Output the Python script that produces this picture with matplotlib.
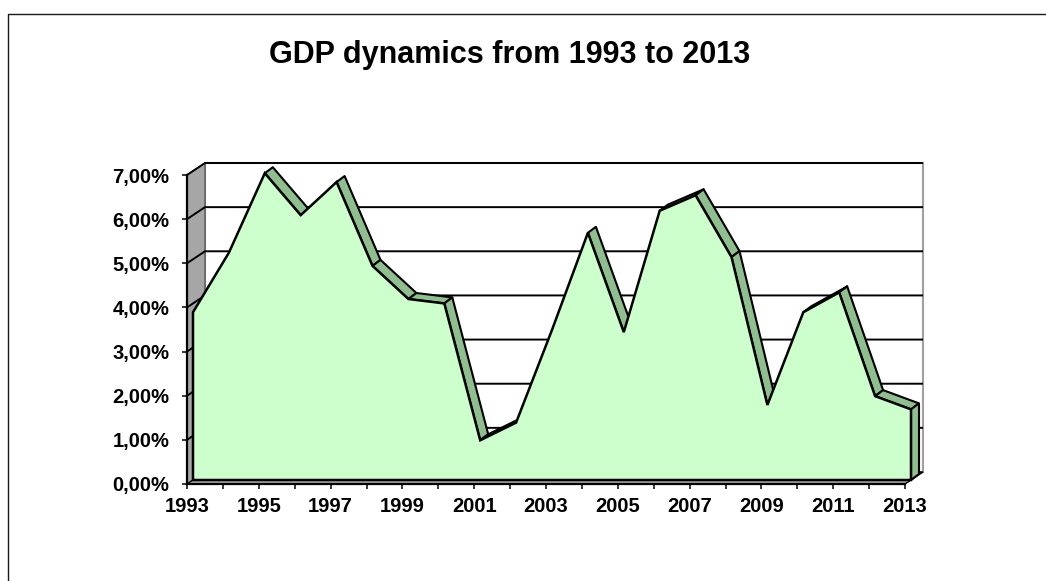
import matplotlib
matplotlib.use('Agg')
import numpy as np
from matplotlib import pyplot as plt
from matplotlib.patches import Polygon
from matplotlib.lines import Line2D

plt.rcParams['font.family'] = ['Liberation Sans', 'DejaVu Sans']

years = list(range(1993, 2014))
gdp = [3.8, 5.15, 6.95, 6.0, 6.75, 4.85, 4.1, 4.0, 0.9, 1.3, 3.4,
       5.6, 3.35, 6.1, 6.45, 5.05, 1.7, 3.8, 4.25, 1.9, 1.6]
ytick_vals = [0, 1, 2, 3, 4, 5, 6, 7]
ytick_labels = ['0,00%', '1,00%', '2,00%', '3,00%', '4,00%', '5,00%', '6,00%', '7,00%']
xtick_labels = [str(y) if (y - years[0]) % 2 == 0 else '' for y in years]
title = 'GDP dynamics from 1993 to 2013'

W, H = 1046, 581
fig = plt.figure(figsize=(W / 100, H / 100), dpi=100)
ax = fig.add_axes([187 / W, 97 / H, 718 / W, 309 / H])
x0, x1 = years[0], years[-1]
ax.set_xlim(x0, x1)
ax.set_ylim(0, 7)

# pixels per data unit, for the fake 3d depth
bb = ax.get_window_extent()
sx = bb.width / (x1 - x0)
sy = bb.height / 7.0

def off(px, py):
    return px / sx, py / sy

wx, wy = off(18, 12)   # back wall
fx, fy = off(6, 4)     # series front face
bx, by = off(14, 10)   # series back face

# walls and floor
ax.add_patch(Polygon([(x0 + wx, wy), (x1 + wx, wy), (x1 + wx, 7 + wy), (x0 + wx, 7 + wy)],
                     closed=True, facecolor='white', edgecolor='#a0a0a0', lw=1.5,
                     clip_on=False, zorder=1))
ax.add_patch(Polygon([(x0, 0), (x0, 7), (x0 + wx, 7 + wy), (x0 + wx, wy)],
                     closed=True, facecolor='#a6a6a6', edgecolor='#555555', lw=1,
                     clip_on=False, zorder=1))
ax.add_patch(Polygon([(x0, 0), (x1, 0), (x1 + wx, wy), (x0 + wx, wy)],
                     closed=True, facecolor='#a6a6a6', edgecolor='black', lw=1,
                     clip_on=False, zorder=1))

# gridlines on back and left walls
for v in ytick_vals[1:]:
    ax.plot([x0, x0 + wx, x1 + wx], [v, v + wy, v + wy], color='black', lw=1.4,
            clip_on=False, zorder=2, solid_capstyle='butt')

# top strips of the area (only the faces turned to the viewer)
for i in range(len(years) - 1):
    dxp = (years[i + 1] - years[i]) * sx
    dyp = (gdp[i + 1] - gdp[i]) * sy
    if dxp * 6 - dyp * 8 <= 0:
        continue
    pts = [(years[i] + fx, gdp[i] + fy), (years[i + 1] + fx, gdp[i + 1] + fy),
           (years[i + 1] + bx, gdp[i + 1] + by), (years[i] + bx, gdp[i] + by)]
    ax.add_patch(Polygon(pts, closed=True, facecolor='#8fbf8f', edgecolor='black',
                         lw=1.5, clip_on=False, zorder=3, joinstyle='round'))

# right end face
ax.add_patch(Polygon([(x1 + fx, fy), (x1 + fx, gdp[-1] + fy), (x1 + bx, gdp[-1] + by), (x1 + bx, by)],
                     closed=True, facecolor='#8fbf8f', edgecolor='black', lw=1.5,
                     clip_on=False, zorder=3))

# front face
front = [(x + fx, v + fy) for x, v in zip(years, gdp)]
front += [(x1 + fx, fy), (x0 + fx, fy)]
ax.add_patch(Polygon(front, closed=True, facecolor='#ccffcc', edgecolor='black',
                     lw=1.8, clip_on=False, zorder=4, joinstyle='miter'))

# axes
for s in ['top', 'right']:
    ax.spines[s].set_visible(False)
for s in ['left', 'bottom']:
    ax.spines[s].set_color('black')
    ax.spines[s].set_linewidth(1.6)
    ax.spines[s].set_zorder(5)
ax.patch.set_visible(False)

ax.set_yticks(ytick_vals)
ax.set_yticklabels(ytick_labels, fontsize=14.5, fontweight='bold')
ax.set_xticks(years)
ax.set_xticklabels(xtick_labels, fontsize=14.5, fontweight='bold')
ax.tick_params(axis='y', length=3.6, width=1.1, pad=9, direction='out')
ax.tick_params(axis='x', length=3.6, width=1.1, pad=6, direction='out')

fig.text(510 / W, 1 - 55 / H, title, ha='center', va='center',
         fontsize=22, fontweight='bold')

# chart area border (left and top edges visible)
fig.add_artist(Line2D([8 / W, 8 / W, 1], [0, 1 - 14 / H, 1 - 14 / H],
                      transform=fig.transFigure, color='#1a1a1a', lw=1))

fig.savefig('out.png', dpi=100)
